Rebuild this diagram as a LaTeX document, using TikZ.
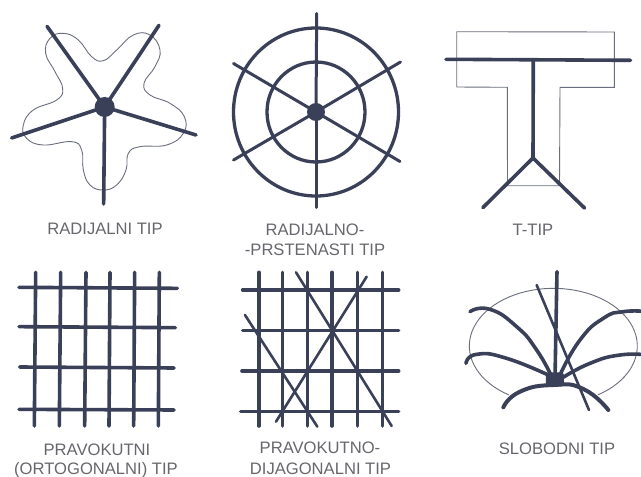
\documentclass[tikz,border=0pt]{standalone}
\usepackage{fontspec}
\setmainfont{Liberation Sans}
\definecolor{ink}{HTML}{3A4058}
\definecolor{thinink}{HTML}{6A6E7C}
\definecolor{labelgray}{HTML}{66666C}
\tikzset{
  main/.style={draw=ink,line width=3.6pt,line cap=round},
  ring/.style={draw=ink,line width=3.3pt},
  diag/.style={draw=ink,line width=2.6pt,line cap=round},
  outline/.style={draw=thinink,line width=0.9pt},
  hub/.style={circle,fill=ink,inner sep=0pt,minimum size=#1},
  lbl/.style={text=labelgray,font=\fontsize{16.6pt}{19pt}\selectfont,inner sep=0pt,anchor=center}
}
\begin{document}
\begin{tikzpicture}[x=1pt,y=-1pt]
\useasboundingbox (0,0) rectangle (641,477);
% --- Radial
\begin{scope}[x=0.33333pt,y=-0.33333pt]
\draw[outline] plot[smooth cycle,tension=0.75] coordinates {(310,182)(350,150)(400,105)(450,105)(480,150)(465,200)(432,250)(450,285)(510,310)(553,350)(550,400)(500,435)(420,440)(385,460)(378,510)(350,555)(310,570)(270,555)(250,510)(245,450)(215,425)(130,435)(80,415)(70,375)(100,330)(170,300)(188,265)(165,215)(137,160)(150,115)(190,100)(235,120)(275,170)};
\node[hub=20pt] (ra) at (314,321) {};
\coordinate (ra1) at (141,79);
\coordinate (ra2) at (477,76);
\coordinate (ra3) at (588,405);
\coordinate (ra4) at (35,414);
\coordinate (ra5) at (311,612);
\foreach \e in {ra1,ra2,ra3,ra4,ra5} \draw[main] (ra.center) -- (\e);
\end{scope}
\node[lbl] (t1) at (105,229) {RADIJALNI TIP};
% --- Radial ring
\node[hub=18pt] (rb) at (316,112) {};
\draw[ring] (rb.center) ellipse [x radius=82.5pt,y radius=84pt];
\draw[ring] (rb.center) ellipse [x radius=49pt,y radius=50pt];
\coordinate (rb1) at (316.7,13.5);
\coordinate (rb2) at (316,207.5);
\coordinate (rb3) at (233.5,63.5);
\coordinate (rb4) at (400.5,62);
\coordinate (rb5) at (233.5,160);
\coordinate (rb6) at (400,161.5);
\foreach \e in {rb1,rb2,rb3,rb4,rb5,rb6} \draw[main,line width=3pt] (rb.center) -- (\e);
\node[lbl] (t2a) at (315,230) {RADIJALNO-};
\node[lbl] (t2b) at (315,249.5) {-PRSTENASTI TIP};
% --- T
\draw[outline] (456.7,31.7) -- (614.3,32) -- (614.3,87.3) -- (560,87.3) -- (559.5,185.7) -- (507.5,185.7) -- (507.3,87.3) -- (456.7,87) -- cycle;
\coordinate (tb1) at (446,59.3);
\coordinate (tb2) at (630.5,60.3);
\coordinate (tj1) at (533.3,60);
\coordinate (tj2) at (533,158);
\coordinate (tl1) at (483,207.5);
\coordinate (tl2) at (584.5,208);
\draw[main] (tb1) -- (tb2);
\draw[main] (tj1) -- (tj2);
\draw[main] (tl1) -- (tj2) -- (tl2);
\node[lbl] (t3) at (533,230) {T-TIP};
% --- Orthogonal grid
\begin{scope}[x=0.33333pt,y=-0.33333pt,shift={(0,720)}]
\foreach \a/\b in {107/103,182/178,258/254,330/327,404/401,478/475}
  \draw[main] (\a,97) -- (\b,558);
\foreach \a/\b/\c/\d in {142/145/57/532,260/263/57/526,381/384/59/522,508/510/57/522}
  \draw[main] (\c,\a) -- (\d,\b);
\end{scope}
\node[lbl] (t4a) at (97,450) {PRAVOKUTNI};
\node[lbl] (t4b) at (96,470) {(ORTOGONALNI) TIP};
% --- Diagonal grid
\begin{scope}[x=0.33333pt,y=-0.33333pt,shift={(630,720)}]
\foreach \a in {147,218,293,366,442,518}
  \draw[main] (\a,97) -- (\a,558);
\foreach \a/\c in {150/98,272/98,393/96,514/92}
  \draw[main] (\c,\a) -- (566,\a);
\draw[diag] (258,97) -- (545,558);
\draw[diag] (105,225) -- (322,560);
\draw[diag] (470,110) -- (198,545);
\end{scope}
\node[lbl] (t5a) at (320,448) {PRAVOKUTNO-};
\node[lbl] (t5b) at (320.5,469) {DIJAGONALNI TIP};
% --- Free
\begin{scope}[x=0.33333pt,y=-0.33333pt,shift={(1320,780)}]
\draw[outline] plot[domain=-58:238,samples=70] ({340+252*cos(\x)},{258-173*sin(\x)});
\node[fill=ink,rounded corners=3pt,minimum width=18pt,minimum height=14pt,inner sep=0pt] (fh) at (345,358) {};
\coordinate (f1) at (351,35);
\coordinate (f2) at (290,75);
\coordinate (f3) at (447,450);
\draw[main] (f1) -- (fh.center);
\draw[diag] (f2) -- (f3);
\draw[main,line width=4pt] plot[smooth,tension=0.9] coordinates {(190,442)(240,395)(340,375)(430,387)(505,450)};
\draw[main] plot[smooth,tension=0.9] coordinates {(90,155)(150,148)(230,200)(290,270)(335,350)};
\draw[main] plot[smooth,tension=0.9] coordinates {(78,310)(110,283)(200,295)(340,352)};
\draw[main] plot[smooth,tension=0.9] coordinates {(360,345)(420,240)(490,175)(550,155)(620,155)};
\draw[main] plot[smooth,tension=0.9] coordinates {(365,355)(450,310)(540,285)(620,285)};
\end{scope}
\node[lbl] (t6) at (557,449) {SLOBODNI TIP};
\end{tikzpicture}
\end{document}
